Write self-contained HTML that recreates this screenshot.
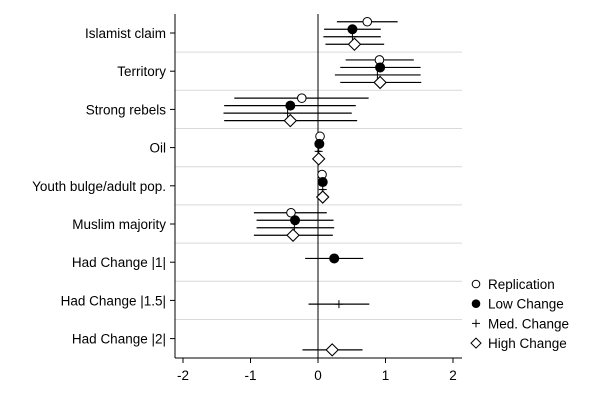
<!DOCTYPE html>
<html><head><meta charset="utf-8"><style>
body{margin:0;background:#fff;}
svg{display:block;font-family:"Liberation Sans",Arial,sans-serif;}
</style></head><body>
<svg id="chart" width="600" height="400"></svg>
<script>
const categories=["Islamist claim","Territory","Strong rebels","Oil","Youth bulge/adult pop.","Muslim majority","Had Change |1|","Had Change |1.5|","Had Change |2|"];
const seriesNames=["Replication","Low Change","Med. Change","High Change"];
const repEst=[0.73,0.91,-0.24,0.03,0.06,-0.40,null,null,null];
const repLo=[0.28,0.41,-1.24,0.00,0.03,-0.95,null,null,null];
const repHi=[1.18,1.42,0.75,0.06,0.09,0.13,null,null,null];
const lowEst=[0.51,0.92,-0.41,0.02,0.07,-0.34,0.24,null,null];
const lowLo=[0.09,0.33,-1.39,-0.01,0.04,-0.91,-0.19,null,null];
const lowHi=[0.93,1.52,0.56,0.05,0.10,0.23,0.67,null,null];
const medEst=[0.51,0.88,-0.45,0.01,0.07,-0.35,null,0.31,null];
const medLo=[0.08,0.25,-1.40,-0.02,0.04,-0.91,null,-0.14,null];
const medHi=[0.93,1.52,0.50,0.04,0.10,0.24,null,0.76,null];
const highEst=[0.54,0.92,-0.41,0.01,0.07,-0.37,null,null,0.21];
const highLo=[0.11,0.33,-1.39,-0.02,0.04,-0.95,null,null,-0.23];
const highHi=[0.98,1.53,0.58,0.04,0.10,0.22,null,null,0.66];
const xTicks=[-2,-1,0,1,2];

const svg=document.getElementById('chart');
const NS='http://www.w3.org/2000/svg';
function mk(t,a,p){const e=document.createElementNS(NS,t);for(const k in a)e.setAttribute(k,a[k]);(p||svg).appendChild(e);return e;}
const x=v=>318+v*67.5;
const rowY=i=>33+i*38.2;
const off=[-11.25,-3.75,3.75,11.25];
const L=175,R=462,T=14,B=358;

for(let i=0;i<categories.length-1;i++){
  const g=mk('line',{x1:L,x2:R,y1:rowY(i)+19.1,y2:rowY(i)+19.1,stroke:'#d9d9d9','stroke-width':1});
  
}
let a=mk('line',{x1:L,x2:L,y1:T,y2:B,stroke:'#000','stroke-width':1});

a=mk('line',{x1:L,x2:R,y1:B,y2:B,stroke:'#000','stroke-width':1});

a=mk('line',{x1:x(0),x2:x(0),y1:T,y2:B,stroke:'#000','stroke-width':1});

categories.forEach((c,i)=>{
  mk('line',{x1:L-5,x2:L,y1:rowY(i),y2:rowY(i),stroke:'#000'});
  const t=mk('text',{x:166,y:rowY(i)+5,'text-anchor':'end','font-size':13.5});
  t.textContent=c;
  
});
xTicks.forEach(v=>{
  mk('line',{x1:x(v),x2:x(v),y1:B,y2:B+5,stroke:'#000'});
  const t=mk('text',{x:x(v),y:B+22,'text-anchor':'middle','font-size':13.5});
  t.textContent=v<0?'-'+Math.abs(v):v;
  
});
function marker(s,cx,cy,g){
  if(s===0)mk('circle',{cx,cy,r:4.3,fill:'#fff',stroke:'#000','stroke-width':1},g);
  else if(s===1)mk('circle',{cx,cy,r:5,fill:'#000'},g);
  else if(s===2){mk('line',{x1:cx-4,x2:cx+4,y1:cy,y2:cy,stroke:'#000'},g);mk('line',{x1:cx,x2:cx,y1:cy-4,y2:cy+4,stroke:'#000'},g);}
  else mk('polygon',{points:`${cx},${cy-6} ${cx+6},${cy} ${cx},${cy+6} ${cx-6},${cy}`,fill:'#fff',stroke:'#000','stroke-width':1.1},g);
}
const est=[repEst,lowEst,medEst,highEst],lo=[repLo,lowLo,medLo,highLo],hi=[repHi,lowHi,medHi,highHi];
const sname=['replication','low-change','med-change','high-change'];
for(let s=0;s<4;s++){
  categories.forEach((c,i)=>{
    if(est[s][i]===null)return;
    const y=rowY(i)+off[s];
    const g=mk('g',{});
    
    
    mk('line',{x1:x(lo[s][i]),x2:x(hi[s][i]),y1:y,y2:y,stroke:'#000','stroke-width':1.2},g);
    marker(s,x(est[s][i]),y,g);
  });
}
const lg=mk('g',{});

seriesNames.forEach((n,i)=>{
  const y=284+i*19.7;
  const g=mk('g',{},lg);
  
  if(i===1)mk('circle',{cx:476,cy:y,r:4.3,fill:'#000'},g);
  else if(i===0)mk('circle',{cx:476,cy:y,r:3.8,fill:'#fff',stroke:'#000'},g);
  else if(i===2){mk('line',{x1:472,x2:480,y1:y,y2:y,stroke:'#000'},g);mk('line',{x1:476,x2:476,y1:y-4,y2:y+4,stroke:'#000'},g);}
  else mk('polygon',{points:`476,${y-5} 481,${y} 476,${y+5} 471,${y}`,fill:'#fff',stroke:'#000'},g);
  const t=mk('text',{x:488,y:y+5,'font-size':13.5},g);t.textContent=n;
});
</script>
</body></html>
